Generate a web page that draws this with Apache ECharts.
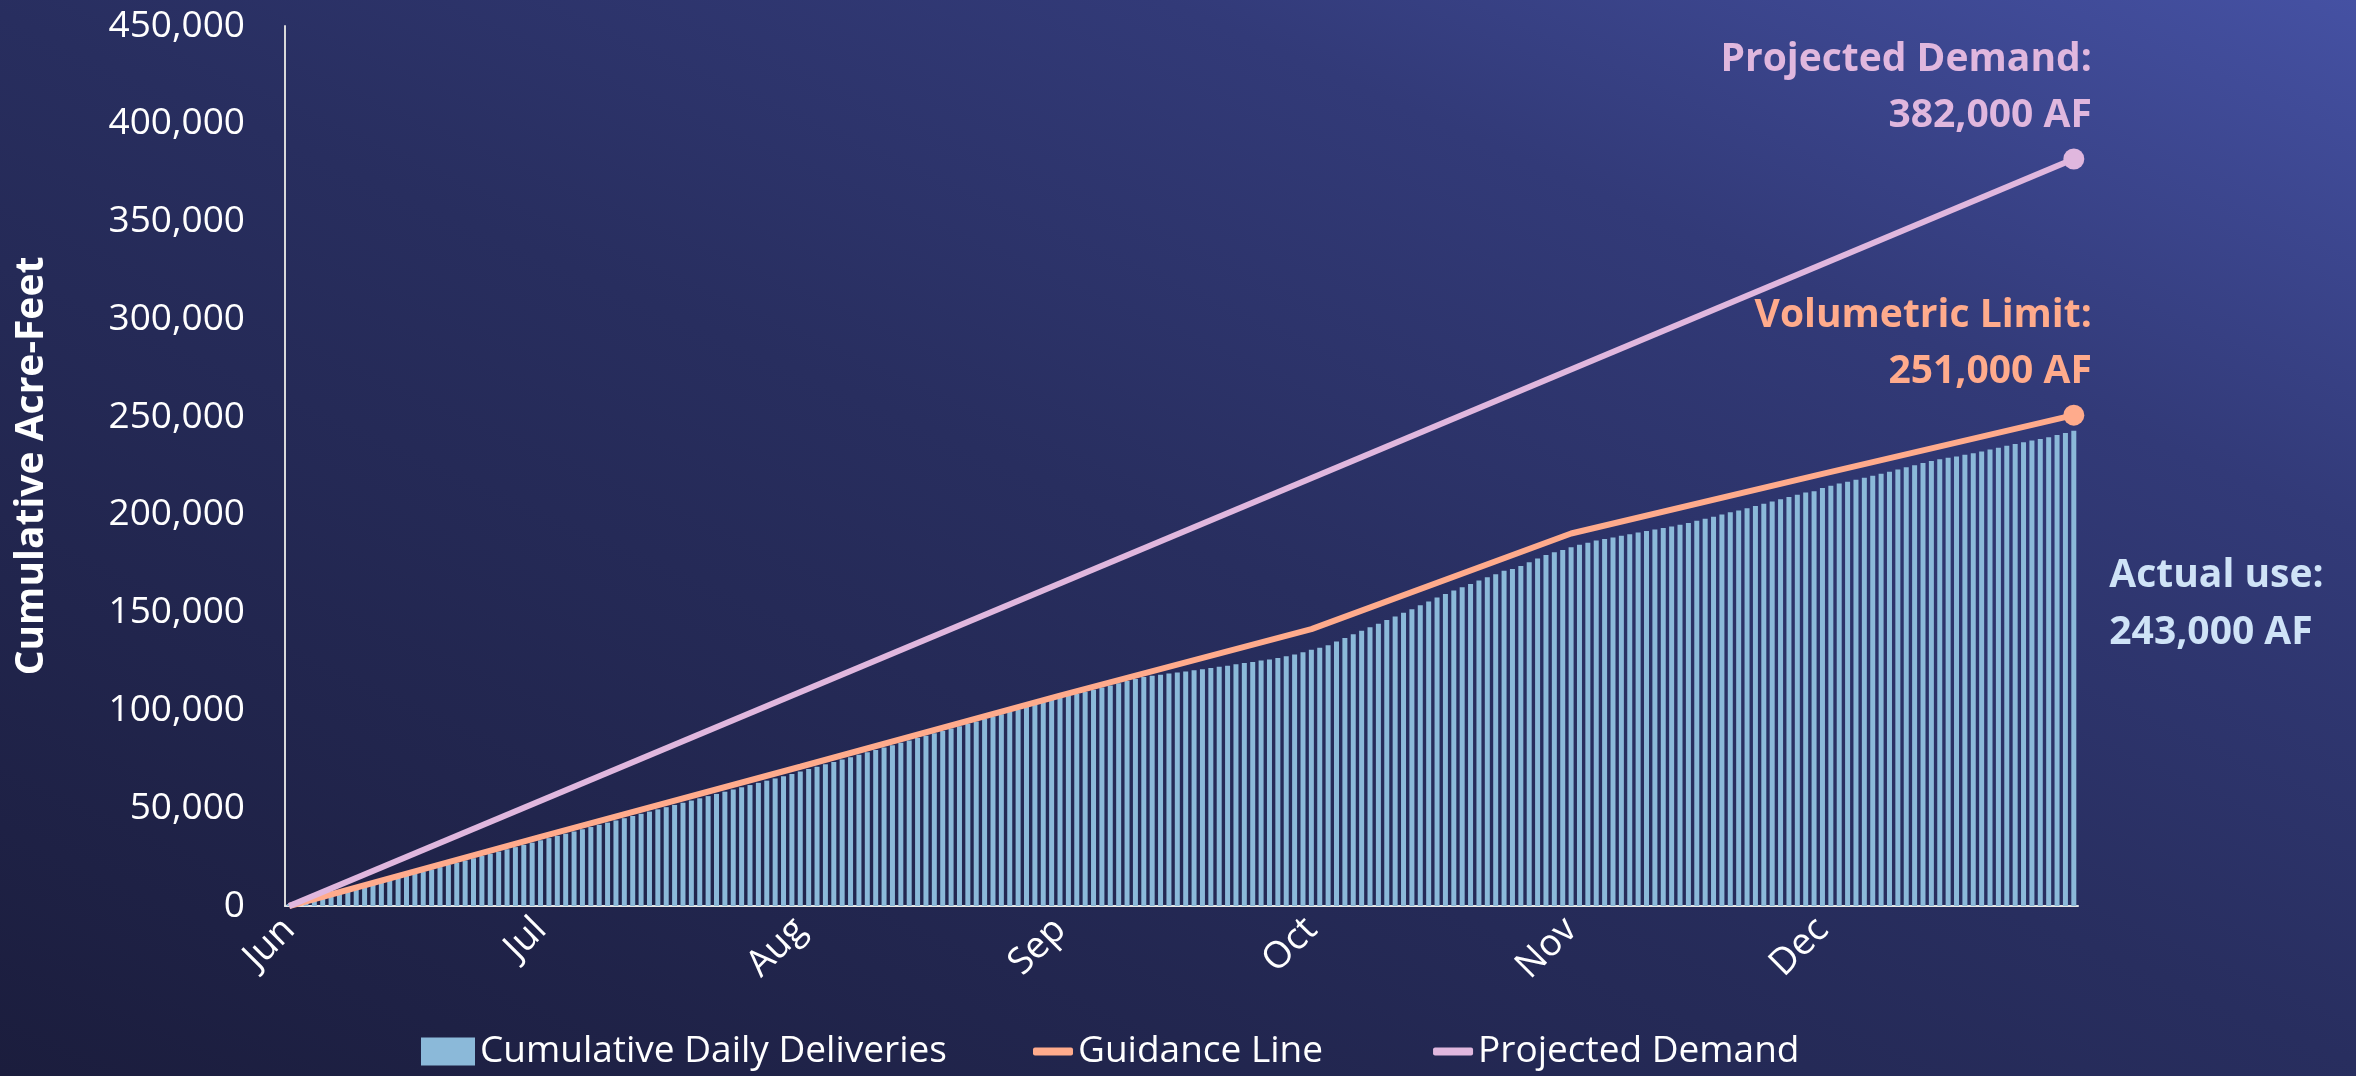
<!DOCTYPE html>
<html>
<head>
<meta charset="utf-8">
<title>Cumulative Deliveries</title>
<script src="https://cdn.jsdelivr.net/npm/echarts@6/dist/echarts.min.js"></script>
<style>
  html, body { margin: 0; padding: 0; }
  body {
    width: 2356px;
    height: 1076px;
    overflow: hidden;
    background: linear-gradient(24deg, #1b1d3d 0%, #282e5f 50%, #323a78 75%, #4551a3 100%);
  }
  #chart { width: 2356px; height: 1076px; }
</style>
</head>
<body>
<div id="chart"></div>
<script>
  // months shown on the axis, one category per day (Jun 1 - Dec 31)
  const months = ["Jun", "Jul", "Aug", "Sep", "Oct", "Nov", "Dec"];
  const monthDays = [30, 31, 31, 30, 31, 30, 31];

  // cumulative daily deliveries (AF)
  const junDeliveries = [1000, 2040, 3050, 4100, 5110, 6150, 7190, 8200, 9250, 10270, 11300, 12340, 13350, 14400, 15410, 16450, 17590, 18720, 19880, 21000, 22150, 23280, 24440, 25560, 26710, 27840, 29000, 30120, 31270, 32400];
  const julDeliveries = [33600, 34720, 35860, 36980, 38120, 39250, 40370, 41510, 42640, 43760, 44900, 46030, 47150, 48290, 49420, 50540, 51680, 52810, 53930, 55070, 56200, 57320, 58460, 59590, 60710, 61850, 62980, 64100, 65240, 66370, 67500];
  const augDeliveries = [68800, 70010, 71240, 72450, 73680, 74890, 76120, 77330, 78560, 79770, 81000, 82210, 83440, 84650, 85880, 87090, 88320, 89530, 90760, 91970, 93200, 94410, 95640, 96850, 98080, 99290, 100520, 101730, 102960, 104170, 105300];
  const sepDeliveries = [106500, 107600, 108400, 109500, 110600, 111700, 112800, 113900, 115000, 116100, 117100, 117700, 118300, 118900, 119400, 119900, 120500, 121100, 121700, 122300, 122900, 123600, 124200, 124800, 125500, 126100, 126800, 127700, 128600, 129700];
  const octDeliveries = [131000, 132000, 133400, 135200, 137000, 138900, 140700, 142500, 144300, 146200, 148100, 150000, 151800, 153800, 155700, 157700, 159600, 161300, 163000, 164700, 166400, 168100, 169600, 171400, 172300, 173900, 175800, 177700, 179500, 180900, 182100];
  const novDeliveries = [183400, 184700, 185800, 186900, 187700, 188400, 189300, 190100, 191000, 191800, 192500, 193300, 194100, 194900, 195900, 197000, 198000, 199100, 200200, 201300, 202300, 203400, 204600, 205700, 206900, 208000, 209100, 210300, 211400, 212100];
  const decDeliveries = [213800, 214900, 216000, 217000, 218000, 219000, 220000, 221100, 222100, 223200, 224300, 225400, 226500, 227600, 228400, 229200, 229900, 230700, 231500, 232400, 233400, 234300, 235300, 236200, 237100, 238000, 238800, 239700, 240800, 241900, 243000];

  // guidance line vertices and projected demand end points
  const guidanceDates = ["Jun 1", "Jul 1", "Aug 1", "Sep 1", "Oct 1", "Nov 1", "Dec 1", "Dec 31"];
  const guidanceValues = [0, 35400, 71200, 107600, 141600, 190500, 221000, 251000];
  const demandDates = ["Jun 1", "Dec 31"];
  const demandValues = [0, 382000];

  const days = [];
  months.forEach(function (m, i) {
    for (let d = 1; d <= monthDays[i]; d++) days.push(m + " " + d);
  });
  const deliveries = [].concat(junDeliveries, julDeliveries, augDeliveries,
    sepDeliveries, octDeliveries, novDeliveries, decDeliveries);

  const lastDay = days[days.length - 1];
  const lastGuidance = guidanceValues[guidanceValues.length - 1];
  const lastDemand = demandValues[demandValues.length - 1];
  const lastDelivery = deliveries[deliveries.length - 1];
  const fmt = function (v) { return v.toLocaleString("en-US"); };
  const isMonthStart = function (index, value) { return / 1$/.test(value); };

  const font = "'Open Sans', 'Noto Sans', sans-serif";
  const barColor = "#8bb9d9";
  const guideColor = "#ffab8c";
  const demandColor = "#e0b7de";
  const legendText = { color: "#ffffff", fontSize: 37, fontFamily: font };

  let myChart = echarts.init(document.getElementById("chart"));
  myChart.setOption({
    animation: false,
    backgroundColor: "transparent",
    textStyle: { fontFamily: font },
    grid: { left: 285, right: 278, top: 26, bottom: 170 },
    // two legends: a block for the bars, thin strokes for the lines
    legend: [
      {
        left: 416,
        top: 1028,
        itemWidth: 54,
        itemHeight: 28,
        textStyle: legendText,
        data: [{ name: "Cumulative Daily Deliveries", icon: "rect" }],
      },
      {
        left: 1028,
        top: 1028,
        itemWidth: 40,
        itemHeight: 8,
        itemGap: 110,
        icon: "roundRect",
        textStyle: legendText,
        data: ["Guidance Line", "Projected Demand"],
      },
    ],
    xAxis: {
      type: "category",
      data: days,
      boundaryGap: true,
      axisLine: { lineStyle: { color: "#e6e6e6", width: 2 } },
      axisTick: {
        interval: isMonthStart,
        length: 12,
        lineStyle: { color: "#e6e6e6", width: 2 },
      },
      axisLabel: {
        interval: isMonthStart,
        rotate: 45,
        margin: 18,
        color: "#ffffff",
        fontSize: 37,
        fontFamily: font,
        formatter: function (value) { return value.split(" ")[0]; },
      },
      splitLine: { show: false },
    },
    yAxis: {
      type: "value",
      min: 0,
      max: 450000,
      interval: 50000,
      name: "Cumulative Acre-Feet",
      nameLocation: "middle",
      nameRotate: 90,
      nameGap: 234,
      nameTextStyle: { color: "#ffffff", fontSize: 39, fontWeight: "bold", fontFamily: font },
      axisLine: { show: true, lineStyle: { color: "#d9d9d9", width: 2 } },
      axisTick: { show: false },
      axisLabel: {
        margin: 40,
        color: "#ffffff",
        fontSize: 37,
        fontFamily: font,
        formatter: fmt,
      },
      splitLine: { show: false },
    },
    series: [
      {
        name: "Cumulative Daily Deliveries",
        type: "bar",
        data: deliveries,
        barWidth: 5,
        itemStyle: { color: barColor },
        markPoint: {
          symbol: "circle",
          symbolSize: 1,
          itemStyle: { color: "transparent" },
          label: {
            show: true,
            position: "right",
            align: "left",
            offset: [30, 174],
            lineHeight: 57,
            color: "#cfe3f7",
            fontSize: 39,
            fontWeight: "bold",
            fontFamily: font,
          },
          data: [
            { coord: [lastDay, lastDelivery], label: { formatter: "Actual use:\n" + fmt(lastDelivery) + " AF" } },
          ],
        },
      },
      {
        name: "Guidance Line",
        type: "line",
        data: guidanceDates.map(function (d, i) { return [d, guidanceValues[i]]; }),
        symbol: "none",
        lineStyle: { color: guideColor, width: 6 },
        itemStyle: { color: guideColor },
        z: 3,
        markPoint: {
          symbol: "circle",
          symbolSize: 21,
          itemStyle: { color: guideColor },
          label: {
            show: true,
            position: "top",
            align: "right",
            offset: [18, 0],
            lineHeight: 56,
            color: guideColor,
            fontSize: 39,
            fontWeight: "bold",
            fontFamily: font,
          },
          data: [
            { coord: [lastDay, lastGuidance], label: { formatter: "Volumetric Limit:\n" + fmt(lastGuidance) + " AF" } },
          ],
        },
      },
      {
        name: "Projected Demand",
        type: "line",
        data: demandDates.map(function (d, i) { return [d, demandValues[i]]; }),
        symbol: "none",
        lineStyle: { color: demandColor, width: 6 },
        itemStyle: { color: demandColor },
        z: 3,
        markPoint: {
          symbol: "circle",
          symbolSize: 21,
          itemStyle: { color: demandColor },
          label: {
            show: true,
            position: "top",
            align: "right",
            offset: [18, 0],
            lineHeight: 56,
            color: demandColor,
            fontSize: 39,
            fontWeight: "bold",
            fontFamily: font,
          },
          data: [
            { coord: [lastDay, lastDemand], label: { formatter: "Projected Demand:\n" + fmt(lastDemand) + " AF" } },
          ],
        },
      },
    ],
  });
</script>
</body>
</html>
